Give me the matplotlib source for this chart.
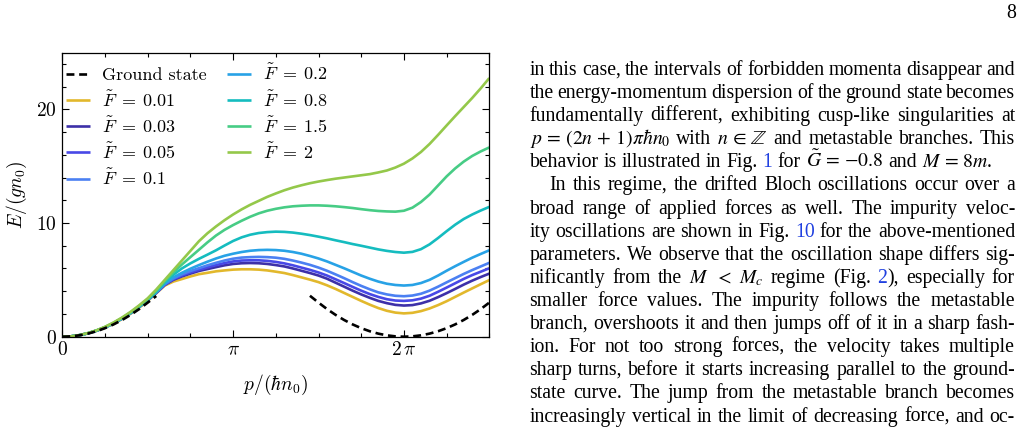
import re
import numpy as np
import matplotlib
matplotlib.use("Agg")
import matplotlib.pyplot as plt

plt.rcParams['font.family'] = 'serif'
plt.rcParams['font.serif'] = ['cmr10']
plt.rcParams['mathtext.fontset'] = 'cm'
plt.rcParams['axes.unicode_minus'] = False

# momentum grid in units of pi*hbar*n0
p_grid = np.round(np.arange(0, 2.501, 0.05), 2)
nan = np.nan

ground_state = [0, 0.03, 0.12, 0.27, 0.48, 0.75, 1.08, 1.47, 1.92, 2.43, 3.0, 3.58,
                nan, nan, nan, nan, nan, nan, nan, nan, nan, nan, nan, nan, nan, nan, nan, nan, nan,
                3.6, 3.0, 2.43, 1.92, 1.47, 1.08, 0.75, 0.48, 0.27, 0.12, 0.03, 0.0,
                0.03, 0.12, 0.27, 0.48, 0.75, 1.08, 1.47, 1.92, 2.43, 3.0]

E_001 = [0, 0.03, 0.12, 0.29, 0.51, 0.79, 1.14, 1.55, 2.02, 2.55, 3.15,
         3.82, 4.5, 4.85, 5.07, 5.3, 5.5, 5.62, 5.75, 5.83, 5.9,
         5.93, 5.93, 5.9, 5.83, 5.72, 5.6, 5.42, 5.22, 5.02, 4.8,
         4.52, 4.2, 3.85, 3.5, 3.15, 2.82, 2.52, 2.28, 2.12, 2.05,
         2.1, 2.25, 2.48, 2.78, 3.12, 3.5, 3.88, 4.25, 4.62, 4.98]
E_003 = [0, 0.03, 0.13, 0.3, 0.53, 0.82, 1.18, 1.6, 2.08, 2.62, 3.22,
         3.85, 4.55, 5.0, 5.3, 5.55, 5.78, 5.95, 6.12, 6.28, 6.4,
         6.46, 6.48, 6.46, 6.4, 6.3, 6.18, 6.0, 5.8, 5.6, 5.38,
         5.1, 4.75, 4.4, 4.05, 3.72, 3.42, 3.15, 2.95, 2.8, 2.74,
         2.78, 2.93, 3.16, 3.48, 3.83, 4.2, 4.58, 4.93, 5.25, 5.55]
E_005 = [0, 0.03, 0.13, 0.3, 0.53, 0.82, 1.18, 1.6, 2.08, 2.62, 3.22,
         3.87, 4.58, 5.05, 5.38, 5.65, 5.88, 6.1, 6.3, 6.48, 6.62,
         6.7, 6.72, 6.72, 6.67, 6.58, 6.45, 6.28, 6.08, 5.88, 5.65,
         5.38, 5.05, 4.72, 4.38, 4.05, 3.75, 3.5, 3.3, 3.18, 3.15,
         3.2, 3.35, 3.6, 3.95, 4.32, 4.7, 5.08, 5.42, 5.72, 6.02]
E_01 = [0, 0.03, 0.13, 0.3, 0.53, 0.82, 1.18, 1.6, 2.08, 2.62, 3.22,
        3.9, 4.62, 5.12, 5.48, 5.78, 6.03, 6.28, 6.5, 6.7, 6.86,
        6.96, 7.0, 7.02, 7.0, 6.95, 6.85, 6.7, 6.52, 6.32, 6.08,
        5.8, 5.48, 5.15, 4.8, 4.47, 4.17, 3.9, 3.72, 3.6, 3.56,
        3.62, 3.78, 4.05, 4.4, 4.78, 5.15, 5.52, 5.86, 6.18, 6.5]
E_02 = [0, 0.03, 0.13, 0.3, 0.53, 0.82, 1.18, 1.6, 2.08, 2.62, 3.22,
        3.92, 4.68, 5.22, 5.62, 5.98, 6.3, 6.6, 6.88, 7.12, 7.3,
        7.45, 7.56, 7.62, 7.64, 7.62, 7.56, 7.45, 7.3, 7.1, 6.88,
        6.62, 6.32, 6.02, 5.7, 5.38, 5.1, 4.85, 4.66, 4.55, 4.5,
        4.55, 4.72, 5.0, 5.38, 5.8, 6.2, 6.58, 6.95, 7.28, 7.6]
E_08 = [0, 0.03, 0.13, 0.3, 0.54, 0.83, 1.2, 1.62, 2.1, 2.65, 3.25,
        3.95, 4.8, 5.45, 6.0, 6.45, 6.85, 7.22, 7.6, 8.02, 8.42,
        8.74, 8.97, 9.12, 9.2, 9.24, 9.22, 9.16, 9.06, 8.94, 8.8,
        8.65, 8.48, 8.32, 8.15, 8.0, 7.84, 7.68, 7.55, 7.45, 7.39,
        7.46, 7.7, 8.12, 8.68, 9.28, 9.85, 10.35, 10.75, 11.1, 11.42]
E_15 = [0, 0.03, 0.14, 0.31, 0.55, 0.85, 1.22, 1.65, 2.14, 2.7, 3.3,
        4.05, 4.9, 5.65, 6.35, 7.0, 7.65, 8.3, 8.9, 9.4, 9.82,
        10.2, 10.55, 10.85, 11.08, 11.25, 11.38, 11.47, 11.52, 11.55, 11.55,
        11.52, 11.47, 11.4, 11.32, 11.22, 11.13, 11.06, 11.02, 11.0, 11.08,
        11.35, 11.85, 12.5, 13.3, 14.1, 14.8, 15.4, 15.9, 16.3, 16.65]
E_2 = [0, 0.03, 0.14, 0.32, 0.56, 0.87, 1.25, 1.69, 2.19, 2.76, 3.38,
       4.15, 5.0, 5.85, 6.7, 7.55, 8.4, 9.1, 9.7, 10.25, 10.75,
       11.2, 11.6, 11.95, 12.3, 12.6, 12.88, 13.12, 13.32, 13.5, 13.65,
       13.78, 13.9, 14.0, 14.1, 14.2, 14.3, 14.45, 14.62, 14.88, 15.22,
       15.68, 16.25, 16.95, 17.75, 18.58, 19.4, 20.2, 21.0, 21.85, 22.75]

forces = ['0.01', '0.03', '0.05', '0.1', '0.2', '0.8', '1.5', '2']
energies = [E_001, E_003, E_005, E_01, E_02, E_08, E_15, E_2]
colors = ['#e2b82c', '#3d30a8', '#4848e6', '#4b80f2', '#28a2e6', '#15bcbf', '#47cc85', '#94c84a']

W, H = 1026, 428
fig = plt.figure(figsize=(W / 100, H / 100), dpi=100)
ax = fig.add_axes([62.3 / W, 1 - 336.7 / H, 427 / W, 284.2 / H])

x = p_grid * np.pi
lines = []
for F, E, c in zip(forces, energies, colors):
    l, = ax.plot(x, E, color=c, lw=1.9, solid_capstyle='butt',
                 label=r'$\tilde{F}\;=\;%s$' % F)
    lines.append(l)
gs, = ax.plot(x, ground_state, color='black', lw=1.9, dashes=(3, 1.8), label='Ground state')

ax.set_xlim(0, 2.5 * np.pi)
ax.set_ylim(0, 25)
ax.set_xticks([0, np.pi, 2 * np.pi])
ax.set_xticklabels(['$0$', r'$\pi$', r'$2\,\pi$'])
ax.set_xticks(np.arange(0, 2.51, 0.25) * np.pi, minor=True)
ax.set_yticks([0, 10, 20])
ax.set_yticklabels(['$0$', '$10$', '$20$'])
ax.set_yticks(np.arange(0, 25, 2), minor=True)
ax.tick_params(which='both', direction='in', top=True, right=True, labelsize=14, width=0.8)
ax.tick_params(which='major', length=5)
ax.tick_params(which='minor', length=3)
ax.tick_params(axis='x', pad=3)
ax.tick_params(axis='y', pad=4)
for s in ax.spines.values():
    s.set_linewidth(0.9)

ax.set_xlabel(r'$p/(\hbar n_0)$', fontsize=14, labelpad=10)
ax.set_ylabel(r'$E/(gn_0)$', fontsize=14, labelpad=5)

ax.legend(handles=[gs] + lines, ncol=2, loc='upper left', frameon=False, fontsize=13,
          bbox_to_anchor=(0.0, 0.975), borderaxespad=0, borderpad=0.2,
          handlelength=1.35, handletextpad=0.65, columnspacing=1.1, labelspacing=0.33)

# right column of the page
text_kw = dict(fontsize=14.2, fontfamily='Liberation Serif', math_fontfamily='stix')
fig.text(1011 / W, 1 - 14 / H, '8', ha='center', va='center', **text_kw)

para = [
    ("in this case, the intervals of forbidden momenta disappear and", 0, True),
    ("the energy-momentum dispersion of the ground state becomes", 0, True),
    ("fundamentally different, exhibiting cusp-like singularities at", 0, True),
    (r"$p\,=\,(2n\,+\,1)\pi\hbar n_0$ with $n\,\in\,\mathbb{Z}$ and metastable branches. This", 0, True),
    (r"behavior is illustrated in Fig. #1# for $\tilde{G}\,=\,{-}0.8$ and $M\,=\,8m$.", 0, False),
    ("In this regime, the drifted Bloch oscillations occur over a", 20, True),
    ("broad range of applied forces as well. The impurity veloc-", 0, True),
    ("ity oscillations are shown in Fig. #10# for the above-mentioned", 0, True),
    ("parameters. We observe that the oscillation shape differs sig-", 0, True),
    (r"nificantly from the $M$ $<$ $M_c$ regime (Fig. #2#), especially for", 0, True),
    ("smaller force values. The impurity follows the metastable", 0, True),
    ("branch, overshoots it and then jumps off of it in a sharp fash-", 0, True),
    ("ion. For not too strong forces, the velocity takes multiple", 0, True),
    ("sharp turns, before it starts increasing parallel to the ground-", 0, True),
    ("state curve. The jump from the metastable branch becomes", 0, True),
    ("increasingly vertical in the limit of decreasing force, and oc-", 0, True),
]
link_color = '#2040e0'
renderer = fig.canvas.get_renderer()


def width_of(s):
    t = fig.text(0, 0, s, **text_kw)
    w = t.get_window_extent(renderer).width
    t.remove()
    return w


space_w = width_of('a a') - width_of('aa')
left, right = 529.5, 1015.0
y0, dy = 69.5, 23.1
for i, (line, indent, justify) in enumerate(para):
    words = re.findall(r'(?:\$[^$]*\$|[^\s$])+', line)
    pieces = []
    for w in words:
        parts = w.split('#')
        pcs = [(s, link_color if k % 2 else 'black') for k, s in enumerate(parts) if s]
        pieces.append([(s, c, width_of(s)) for s, c in pcs])
    widths = [sum(p[2] for p in pc) for pc in pieces]
    start = left + indent
    if justify and len(words) > 1:
        gap = max((right - start - sum(widths)) / (len(words) - 1), 0.5 * space_w)
    else:
        gap = space_w
    xp = start
    yb = round(y0 + i * dy + 5.5)
    for pc, wd in zip(pieces, widths):
        xx = xp
        for s, c, w in pc:
            fig.text(xx / W, 1 - yb / H, s, color=c, va='baseline', ha='left', **text_kw)
            xx += w
        xp += wd + gap

fig.savefig('out.png', dpi=100)
